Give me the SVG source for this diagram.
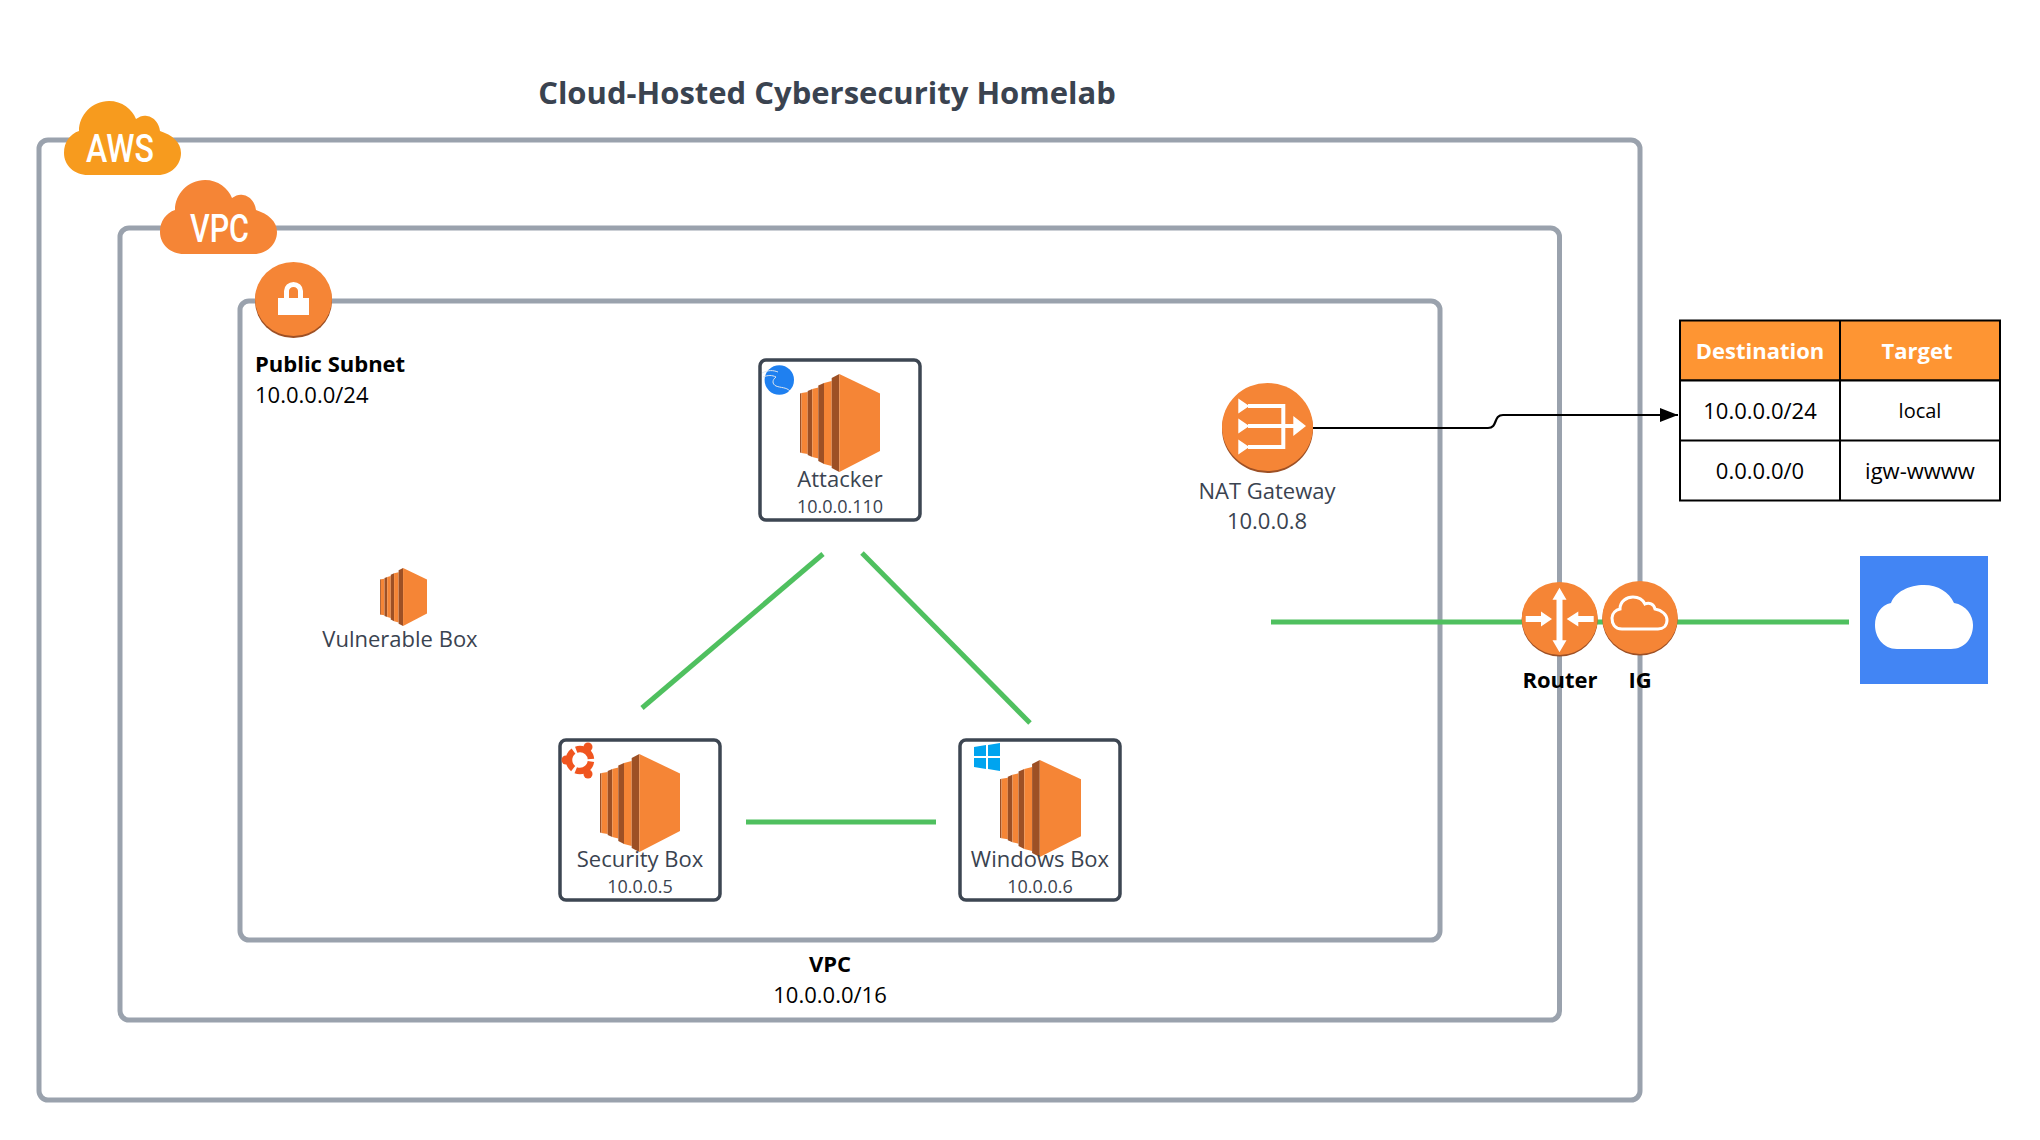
<svg xmlns="http://www.w3.org/2000/svg" xmlns:xlink="http://www.w3.org/1999/xlink" width="2040" height="1140" viewBox="0 0 2040 1140">
<style>
text{font-family:"Open Sans","Noto Sans","Liberation Sans",sans-serif;font-size:22px}
.c{text-anchor:middle}
.b{font-weight:700}
.k{fill:#000}
.g{fill:#3a4350}
.ip{font-size:18px;fill:#3a4350}
.frame{fill:none;stroke:#9aa2ad;stroke-width:5}
.box{fill:#fff;stroke:#3d4652;stroke-width:3.5}
.green{fill:none;stroke:#4fc05f;stroke-width:5}
.cl{font-family:Roboto,"Liberation Sans",sans-serif;font-weight:500;fill:#fff;font-size:39px;text-anchor:start}
.cell{stroke:#000;stroke-width:2}
.wi{fill:none;stroke:#fff}
.wf{fill:#fff}
</style>
<defs>
<marker id="arrow" markerUnits="userSpaceOnUse" markerWidth="19" markerHeight="16" refX="18" refY="8" orient="auto"><path d="M0 1L18 8L0 15Z" fill="#000"/></marker>
<symbol id="ec2" viewBox="0 0 80 98" preserveAspectRatio="none">
<path d="M0 19.5L1.5 19V79L0 78.5Z" fill="#9d5025"/><path d="M1.5 19L7.700 18V80L1.500 79Z" fill="#f58536"/>
<path d="M7.700 17L12.300 15V83L7.700 81Z" fill="#9d5025"/><path d="M12.300 15L18.300 13.500V84.500L12.300 83Z" fill="#f58536"/>
<path d="M18.300 11.500L24 9V90L18.300 87Z" fill="#9d5025"/><path d="M24 9L31.700 7V92L24 90Z" fill="#f58536"/>
<path d="M31.700 4L39.300 0V98L31.700 94Z" fill="#9d5025"/><path d="M39.300 0L80 19.500V77L39.300 98Z" fill="#f58536"/>
</symbol>
<path id="cloud" d="M24 74C10 74 0 64 0 52C0 41 6 33 15 30C15 14 28 0 45 0C58 0 68 8 72 18C76 15 80 14 83 15C90 16 95 22 96 30C108 34 117 41 117 52C117 64 107 74 94 74Z"/>
</defs>
<rect width="2040" height="1140" fill="#fff"/>
<text id="title" x="827" y="104" class="c b" style="font-size:31px;fill:#3a4350">Cloud-Hosted Cybersecurity Homelab</text>
<g id="frames">
<rect id="aws-frame" class="frame" x="39" y="140" width="1601" height="960" rx="9"/>
<rect id="vpc-frame" class="frame" x="120" y="228" width="1439.500" height="792" rx="9"/>
<rect id="subnet-frame" class="frame" x="240" y="301" width="1200" height="639" rx="9"/>
</g>
<g id="connectors">
<path class="green" d="M823 554L642 708"/>
<path class="green" d="M862 553L1030 723"/>
<path class="green" d="M746 822H936"/>
<path class="green" d="M1271 622H1849"/>
<path fill="none" stroke="#000" stroke-width="2.200" marker-end="url(#arrow)" d="M1312 428H1488C1498 428 1493 415 1503 415H1678"/>
</g>
<g id="aws"><use xlink:href="#cloud" href="#cloud" x="64" y="101" fill="#f79b1e"/><text class="cl" x="86" y="162" textLength="68" lengthAdjust="spacingAndGlyphs">AWS</text></g>
<g id="vpc"><use xlink:href="#cloud" href="#cloud" x="160" y="180" fill="#f58536"/><text class="cl" x="190" y="242" textLength="59" lengthAdjust="spacingAndGlyphs">VPC</text></g>
<g id="subnet">
<ellipse cx="293.500" cy="301" rx="38.500" ry="37" fill="#9d5025"/><ellipse cx="293.500" cy="299" rx="38.500" ry="37" fill="#f58536"/>
<path d="M278 298H309V315H278Z" fill="#fff"/><path d="M286.500 299V291A7 6.500 0 0 1 300.500 291V299" fill="none" stroke="#fff" stroke-width="5"/>
<text x="255" y="372" class="b k">Public Subnet</text><text x="255" y="402.500" class="k">10.0.0.0/24</text>
</g>
<g id="attacker">
<rect class="box" x="760" y="360" width="160" height="160" rx="6"/>
<use xlink:href="#ec2" href="#ec2" x="800" y="374" width="80" height="98"/>
<circle cx="779.300" cy="380" r="14.700" fill="#1f80f0"/>
<path d="M762 373C768 370 773 370 778 372M763 377C768 375 772 375 776 377C772 380 772 384 776 386C781 388 786 387 790 391" fill="none" stroke="#dfe6ee" stroke-width="1"/>
<text x="840" y="487" class="c g">Attacker</text><text x="840" y="512.500" class="c ip">10.0.0.110</text>
</g>
<g id="vulnerable"><use xlink:href="#ec2" href="#ec2" x="380" y="568" width="47" height="58"/><text x="400" y="647" class="c g">Vulnerable Box</text></g>
<g id="security">
<rect class="box" x="560" y="740" width="160" height="160" rx="6"/>
<use xlink:href="#ec2" href="#ec2" x="600" y="754" width="80" height="98"/>
<circle cx="580" cy="760" r="11" fill="none" stroke="#f0551f" stroke-width="6.500" stroke-dasharray="20 3.040" stroke-dashoffset="-1.520"/>
<circle cx="566" cy="760" r="4.500" fill="#f0551f"/><circle cx="588" cy="747" r="4.500" fill="#f0551f"/><circle cx="588" cy="774" r="4.500" fill="#f0551f"/>
<text x="640" y="867" class="c g">Security Box</text><text x="640" y="893" class="c ip">10.0.0.5</text>
</g>
<g id="windows">
<rect class="box" x="960" y="740" width="160" height="160" rx="6"/>
<use xlink:href="#ec2" href="#ec2" x="1000" y="760" width="81" height="97"/>
<path d="M974 747L986 745V756H974ZM988 745L1000 743V756H988ZM974 758H986V769L974 767ZM988 758H1000V771L988 769Z" fill="#00a4ef"/>
<text x="1040" y="867" class="c g">Windows Box</text><text x="1040" y="893" class="c ip">10.0.0.6</text>
</g>
<g id="nat">
<ellipse cx="1267.500" cy="429" rx="45.500" ry="44" fill="#9d5025"/><ellipse cx="1267.500" cy="427" rx="45.500" ry="44" fill="#f58536"/>
<path class="wi" stroke-width="4" d="M1248 406H1283.300V447H1248M1248 426H1295"/>
<path class="wf" d="M1238.300 398.500L1249.300 406L1238.300 413.500ZM1238.300 418.500L1249.300 426L1238.300 433.500ZM1238.300 439.500L1249.300 447L1238.300 454.500ZM1293.300 416L1306 426L1293.300 436Z"/>
<text x="1267" y="499" class="c g">NAT Gateway</text><text x="1267" y="529" class="c g">10.0.0.8</text>
</g>
<g id="router">
<ellipse cx="1559.700" cy="620" rx="38" ry="36.500" fill="#9d5025"/><ellipse cx="1559.700" cy="618.500" rx="38" ry="36.500" fill="#f58536"/>
<path class="wf" d="M1559.500 587.700L1566.500 599.700H1562.500V640.300H1566.500L1559.500 652.300L1552.500 640.300H1556.500V599.700H1552.500ZM1525.700 616H1541V611.500L1552 619L1541 626.500V622H1525.700ZM1593.700 616H1578.300V611.500L1566.700 619L1578.300 626.500V622H1593.700Z"/>
<text x="1560" y="688" class="c b k">Router</text>
</g>
<g id="ig">
<ellipse cx="1640" cy="619" rx="37.700" ry="36.500" fill="#9d5025"/><ellipse cx="1640" cy="617.500" rx="37.700" ry="36.500" fill="#f58536"/>
<path fill="none" stroke="#fff" stroke-width="3" transform="translate(-8 -4)" d="M1630 633C1622 633 1620 627 1620 622C1620 617 1624 614 1628 613C1628 605 1635 601 1641 601C1647 601 1651 604 1653 608C1657 606 1662 608 1663 613C1670 614 1675 619 1675 624C1675 630 1671 633 1666 633Z"/>
<text x="1640" y="688" class="c b k">IG</text>
</g>
<g id="internet">
<rect x="1860" y="556" width="128" height="128" fill="#4285f4"/>
<path fill="#fff" transform="translate(1875 585)" d="M22 64C8 64 0 52 0 40C0 29 6 20 16 18C20 7 34 0 49 0C63 0 74 7 79 18C91 20 98 30 98 40C98 53 90 64 76 64Z"/>
</g>
<g id="route-table">
<rect class="cell" x="1680" y="320.500" width="320" height="60" fill="#fe9533"/>
<rect class="cell" x="1680" y="380.500" width="320" height="120" fill="#fff"/>
<path class="cell" d="M1840 320.500V500.500M1680 440.500H2000"/>
<text x="1760" y="359" class="c b" fill="#fff">Destination</text><text x="1917" y="359" class="c b" fill="#fff">Target</text>
<text x="1760" y="419" class="c k">10.0.0.0/24</text><text x="1920" y="418" class="c k" style="font-size:20px">local</text>
<text x="1760" y="479" class="c k">0.0.0.0/0</text><text x="1920" y="479" class="c k">igw-wwww</text>
</g>
<g id="vpc-label"><text x="830" y="972" class="c b k">VPC</text><text x="830" y="1003" class="c k">10.0.0.0/16</text></g>
</svg>
